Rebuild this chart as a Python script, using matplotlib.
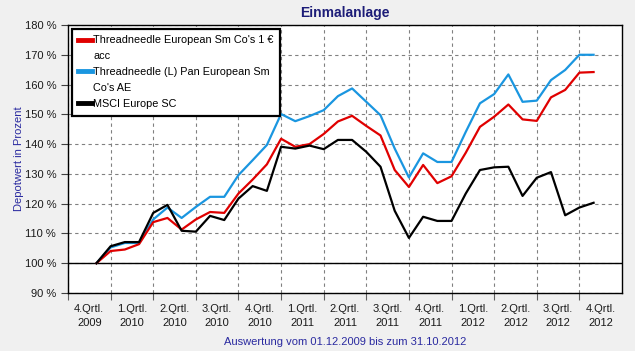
import matplotlib.pyplot as plt
from matplotlib.lines import Line2D
from matplotlib.ticker import FixedLocator, NullFormatter

plt.rcParams['font.family'] = ['Liberation Sans', 'DejaVu Sans']

# Monatswerte ab 01.12.2009 (Start) bis Ende 10/2012
tn_european = [100, 104.1, 104.6, 106.4, 113.8, 115.2, 111.3, 114.7, 117.2, 116.9,
               123.4, 128.1, 133.2, 141.8, 139.1, 140.0, 143.4, 147.6, 149.5, 146.1,
               142.9, 131.3, 125.6, 133.0, 126.9, 129.2, 137.1, 145.8, 149.2, 153.3,
               148.3, 147.8, 155.7, 158.2, 164.0, 164.2]
tn_pan_european = [100, 105.3, 106.8, 106.8, 114.7, 118.7, 115.2, 118.9, 122.3, 122.3,
                   129.6, 134.6, 139.7, 150.1, 147.7, 149.4, 151.4, 156.1, 158.7, 154.2,
                   149.7, 138.5, 128.8, 136.9, 134.0, 134.0, 144.1, 153.7, 156.8, 163.4,
                   154.2, 154.6, 161.5, 164.9, 170.0, 170.0]
msci_europe_sc = [100, 105.7, 107.1, 107.1, 116.9, 119.6, 110.9, 110.6, 115.9, 114.5,
                  121.7, 125.9, 124.3, 139.1, 138.5, 139.5, 138.3, 141.4, 141.4, 137.4,
                  132.4, 117.6, 108.5, 115.6, 114.2, 114.2, 123.4, 131.3, 132.2, 132.4,
                  122.6, 128.7, 130.6, 116.1, 118.7, 120.3]

quarters = ["4.Qrtl.\n2009", "1.Qrtl.\n2010", "2.Qrtl.\n2010", "3.Qrtl.\n2010",
            "4.Qrtl.\n2010", "1.Qrtl.\n2011", "2.Qrtl.\n2011", "3.Qrtl.\n2011",
            "4.Qrtl.\n2011", "1.Qrtl.\n2012", "2.Qrtl.\n2012", "3.Qrtl.\n2012",
            "4.Qrtl.\n2012"]

# Legendentexte, zeilenweise umgebrochen wie im Original
labels = [["Threadneedle European Sm Co's 1 €", "acc"],
          ["Threadneedle (L) Pan European Sm", "Co's AE"],
          ["MSCI Europe SC"]]
colors = ['#e00000', '#1a96e0', 'black']

# x in Monaten ab Anfang Okt 2009, Start = Anfang Dez 2009
x = [2 + i for i in range(len(msci_europe_sc))]

bg = '#f0f0f0'
fig = plt.figure(figsize=(6.35, 3.51), dpi=100, facecolor=bg)
ax = fig.add_axes([68 / 635, 1 - 293 / 351, 554 / 635, 268 / 351])
ax.set_facecolor('white')

ax.plot(x, tn_european, color=colors[0], lw=1.6, zorder=4)
ax.plot(x, tn_pan_european, color=colors[1], lw=1.6, zorder=3)
ax.plot(x, msci_europe_sc, color=colors[2], lw=1.6, zorder=5)
ax.axhline(100, color='black', lw=1, zorder=2)

ax.set_xlim(0, 3 * len(quarters))
ax.set_ylim(90, 180)
ax.set_yticks(range(90, 181, 10))
ax.set_yticklabels([f"{v} %" for v in range(90, 181, 10)], fontsize=8, color='#1a1a1a')

ax.xaxis.set_major_locator(FixedLocator([3 * k for k in range(0, len(quarters))]))
ax.xaxis.set_major_formatter(NullFormatter())
ax.xaxis.set_minor_locator(FixedLocator([3 * k + 1.5 for k in range(len(quarters))]))
ax.set_xticklabels(quarters, minor=True, fontsize=8, linespacing=1.45, color='#1a1a1a')
ax.tick_params(axis='x', which='minor', length=0, pad=8)
ax.tick_params(axis='x', which='major', length=5, color='#606060')
ax.tick_params(axis='y', length=5, color='#404040')

ax.grid(True, which='major', linestyle=(0, (3, 3)), color='#808080', lw=0.8)
for s in ax.spines.values():
    s.set_linewidth(1)
    s.set_color('black')

ax.set_title("Einmalanlage", fontsize=10, fontweight='bold', color='#1c1c78', pad=6)
ax.set_ylabel("Depotwert in Prozent", fontsize=8, color='#2a2aa0')
ax.yaxis.set_label_coords(-0.08, 0.5)
ax.set_xlabel("Auswertung vom 01.12.2009 bis zum 31.10.2012", fontsize=8,
              color='#2a2aa0', labelpad=7)

handles, texts = [], []
for col, lines in zip(colors, labels):
    for j, line in enumerate(lines):
        handles.append(Line2D([], [], color=col if j == 0 else 'none', lw=3.5))
        texts.append(line)

leg = ax.legend(handles, texts, loc='upper left', fontsize=7.8, frameon=True,
                fancybox=False, edgecolor='black', framealpha=1, handlelength=1.3,
                handletextpad=0.1, borderaxespad=0.35, labelspacing=0.55,
                borderpad=0.6)
leg.get_frame().set_linewidth(1.6)

fig.savefig("out.png", dpi=100, facecolor=bg)
